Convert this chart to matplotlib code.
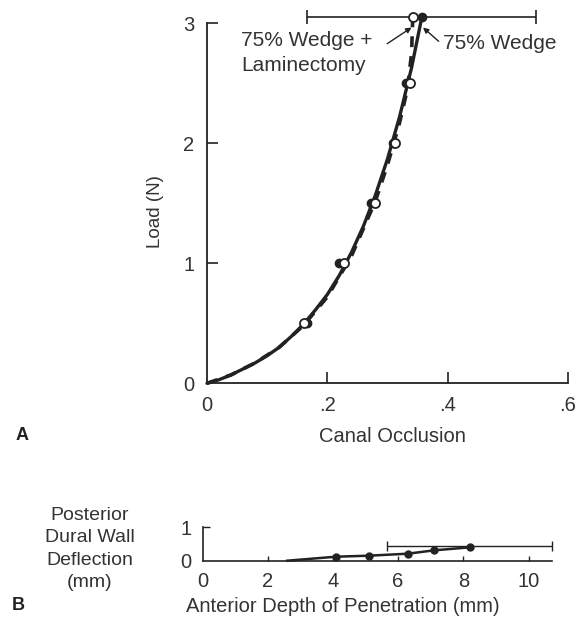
import matplotlib
matplotlib.use("Agg")
import matplotlib.pyplot as plt

plt.rcParams['font.family'] = ['Liberation Sans', 'DejaVu Sans']

INK = '#222222'
TXT = '#333333'

# ---- Panel A: load vs canal occlusion ----
load_levels = [0.5, 1.0, 1.5, 2.0, 2.5, 3.05]
occ_wedge = [0.167, 0.220, 0.273, 0.309, 0.331, 0.357]
occ_wedge_lam = [0.162, 0.227, 0.280, 0.313, 0.338, 0.342]

# fitted curves
fit_occ_wedge = [0, 0.02, 0.04, 0.06, 0.08, 0.10, 0.12, 0.14, 0.16, 0.18,
                 0.20, 0.22, 0.24, 0.26, 0.28, 0.30, 0.32, 0.34, 0.357]
fit_load_wedge = [0, 0.03, 0.07, 0.12, 0.17, 0.23, 0.30, 0.39, 0.49, 0.61,
                  0.74, 0.90, 1.09, 1.31, 1.57, 1.87, 2.22, 2.63, 3.05]
fit_occ_lam = [0, 0.04, 0.08, 0.12, 0.16, 0.20, 0.24, 0.28, 0.30, 0.32,
               0.333, 0.340, 0.342]
fit_load_lam = [0, 0.07, 0.17, 0.30, 0.48, 0.72, 1.06, 1.52, 1.82, 2.17,
                2.45, 2.75, 3.05]

wedge_top_sd = 0.19

occ_ticks = [0, 0.2, 0.4, 0.6]
occ_ticklabels = ['0', '.2', '.4', '.6']
load_ticks = [0, 1, 2, 3]

# ---- Panel B: posterior dural wall deflection vs anterior depth ----
depth_line = [2.6, 4.1, 5.1, 6.3, 7.1, 8.2]
deflection_line = [0.0, 0.12, 0.15, 0.21, 0.31, 0.40]
depth_pts = [4.1, 5.1, 6.3, 7.1, 8.2]
deflection_pts = [0.12, 0.15, 0.21, 0.31, 0.40]
depth_sd = 2.53
depth_ticks = [0, 2, 4, 6, 8, 10]
defl_ticks = [0, 1]

W, H = 585, 628
fig = plt.figure(figsize=(W / 100, H / 100), dpi=100)


def fx(px):
    return px / W


def fy(py):
    return 1 - py / H


# Panel A axes
axA = fig.add_axes([fx(207), fy(383.3), 361 / W, 360 / H])
axA.set_xlim(0, 0.6)
axA.set_ylim(0, 3)
for s in ['top', 'right']:
    axA.spines[s].set_visible(False)
for s in ['left', 'bottom']:
    axA.spines[s].set_linewidth(1.3)
    axA.spines[s].set_color(INK)

axA.plot(fit_occ_wedge, fit_load_wedge, '-', color=INK, lw=2.4,
         clip_on=False, zorder=3, solid_capstyle='round')
axA.plot(fit_occ_lam, fit_load_lam, color=INK, lw=2.6,
         linestyle=(0, (3, 2.5)), clip_on=False, zorder=3)
axA.errorbar([occ_wedge[-1]], [load_levels[-1]], xerr=[wedge_top_sd],
             fmt='none', ecolor=INK, elinewidth=1.2, capsize=5, capthick=1.2,
             clip_on=False, zorder=2)
axA.plot(occ_wedge, load_levels, 'o', ms=6, color=INK, mec=INK,
         clip_on=False, zorder=4)
axA.plot(occ_wedge_lam, load_levels, 'o', ms=6.5, mfc='white', mec=INK,
         mew=1.3, clip_on=False, zorder=5)

axA.set_xticks(occ_ticks)
axA.set_xticklabels(occ_ticklabels)
axA.set_yticks(load_ticks)
axA.tick_params(axis='both', direction='in', length=8, width=1.2,
                color=INK, labelcolor=TXT, labelsize=14.5)
axA.tick_params(axis='x', pad=9)
axA.tick_params(axis='y', pad=9)
axA.xaxis.get_major_ticks()[0].tick1line.set_visible(False)
axA.yaxis.get_major_ticks()[0].tick1line.set_visible(False)

axA.text(0.0567, 2.94, '75% Wedge +\nLaminectomy', ha='left', va='top',
         fontsize=15, color=TXT, linespacing=1.42)
axA.annotate('', xy=(0.340, 2.965), xytext=(0.2995, 2.83),
             arrowprops=dict(arrowstyle='-|>', color=INK, lw=1.0,
                             mutation_scale=8, shrinkA=0, shrinkB=0))
axA.text(0.393, 2.835, '75% Wedge', ha='left', va='center',
         fontsize=15, color=TXT)
axA.annotate('', xy=(0.359, 2.965), xytext=(0.385, 2.85),
             arrowprops=dict(arrowstyle='-|>', color=INK, lw=1.0,
                             mutation_scale=8, shrinkA=0, shrinkB=0))

fig.text(fx(392.5), fy(436), 'Canal Occlusion', ha='center', va='center',
         fontsize=14.5, color=TXT)
fig.text(fx(156), fy(212), 'Load (N)', ha='center', va='center',
         rotation=90, fontsize=13.5, color=TXT)
fig.text(fx(22), fy(435), 'A', ha='center', va='center', fontsize=13,
         fontweight='bold', color=INK)

# Panel B axes
b_scale = 32.6
axB = fig.add_axes([fx(202.5), fy(560.7), 10.73 * b_scale / W, 33.4 / H])
axB.set_xlim(0, 10.73)
axB.set_ylim(0, 1)
for s in ['top', 'right']:
    axB.spines[s].set_visible(False)
for s in ['left', 'bottom']:
    axB.spines[s].set_linewidth(1.2)
    axB.spines[s].set_color(INK)

axB.errorbar([depth_pts[-1]], [deflection_pts[-1] + 0.03], xerr=[depth_sd],
             fmt='none', ecolor=INK, elinewidth=1.0, capsize=3.5,
             capthick=1.0, clip_on=False, zorder=2)
axB.plot(depth_line, deflection_line, '-', color=INK, lw=1.8,
         clip_on=False, zorder=3)
axB.plot(depth_pts, deflection_pts, 'o', ms=5, color=INK,
         clip_on=False, zorder=4)

axB.set_xticks(depth_ticks)
axB.set_yticks(defl_ticks)
axB.tick_params(axis='both', direction='in', length=3.5, width=1.0,
                color=INK, labelcolor=TXT, labelsize=14.5)
axB.tick_params(axis='y', length=5, pad=8)
axB.tick_params(axis='x', pad=8)
axB.xaxis.get_major_ticks()[0].tick1line.set_visible(False)
axB.yaxis.get_major_ticks()[0].tick1line.set_visible(False)

fig.text(fx(343), fy(606), 'Anterior Depth of Penetration (mm)',
         ha='center', va='center', fontsize=14.5, color=TXT)
fig.text(fx(90), fy(549), 'Posterior\nDural Wall\nDeflection\n(mm)',
         ha='center', va='center', fontsize=14, color=TXT, linespacing=1.42)
fig.text(fx(18), fy(606), 'B', ha='center', va='center', fontsize=13,
         fontweight='bold', color=INK)

fig.savefig('out.png', dpi=100)
